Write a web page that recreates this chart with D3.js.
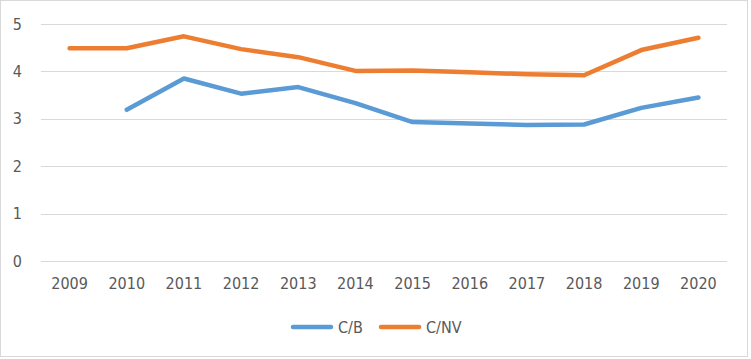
<!DOCTYPE html>
<html>
<head>
<meta charset="utf-8">
<script src="https://cdn.jsdelivr.net/npm/d3@7"></script>
<style>
body { margin: 0; background: #fff; }
text { font-family: "DejaVu Sans Condensed", "DejaVu Sans", sans-serif; font-stretch: condensed; fill: #595959; font-size: 16px; }
</style>
</head>
<body>
<div id="chart"></div>
<script>
var years = ["2009","2010","2011","2012","2013","2014","2015","2016","2017","2018","2019","2020"];
var cb = [null, 3.19, 3.85, 3.53, 3.67, 3.33, 2.93, 2.90, 2.87, 2.88, 3.23, 3.45];
var cnv = [4.49, 4.49, 4.74, 4.47, 4.30, 4.01, 4.02, 3.98, 3.94, 3.92, 4.45, 4.71];
var yTicks = [0, 1, 2, 3, 4, 5];
var seriesNames = ["C/B", "C/NV"];
var colors = ["#5B9BD5", "#ED7D31"];

var W = 751, H = 359;
var margin = {top: 24, left: 41, right: 24, bottom: 98};
var width = 727 - margin.left,
    height = 261 - margin.top;

var svg = d3.select("#chart").append("svg")
  .attr("width", W)
  .attr("height", H);

// outer border
svg.append("rect")
  .attr("x", 0.5).attr("y", 0.5)
  .attr("width", W - 4).attr("height", H - 3)
  .attr("fill", "#fff")
  .attr("stroke", "#D9D9D9");

var g = svg.append("g")
  .attr("transform", "translate(" + margin.left + "," + margin.top + ")");

var x = d3.scaleBand().domain(years).range([0, width]);
var y = d3.scaleLinear().domain([0, 5]).range([height, 0]);

// gridlines
g.append("g")
  .selectAll("line")
  .data(yTicks)
  .enter()
  .append("line")
  .attr("x1", 0).attr("x2", width)
  .attr("y1", function(d){ return Math.round(y(d)) + 0.5; })
  .attr("y2", function(d){ return Math.round(y(d)) + 0.5; })
  .attr("stroke", "#D9D9D9")
  .attr("stroke-width", 1);

// y axis labels
var yAxis = g.append("g")
  .call(d3.axisLeft(y).tickValues(yTicks).tickFormat(d3.format("d")).tickSize(0).tickPadding(19));
yAxis.select(".domain").remove();
yAxis.selectAll("text").style("font-size", "16px").attr("fill", "#595959");

// x axis labels
var xAxis = g.append("g")
  .attr("transform", "translate(0," + height + ")")
  .call(d3.axisBottom(x).tickSize(0).tickPadding(17));
xAxis.select(".domain").remove();
xAxis.selectAll("text").style("font-size", "16px").attr("fill", "#595959");

var line = d3.line()
  .defined(function(d){ return d != null; })
  .x(function(d, i){ return x(years[i]) + x.bandwidth() / 2; })
  .y(function(d){ return y(d); });

[cb, cnv].forEach(function(vals, k) {
  g.append("path")
    .datum(vals)
    .attr("fill", "none")
    .attr("stroke", colors[k])
    .attr("stroke-width", 4.5)
    .attr("stroke-linejoin", "round")
    .attr("stroke-linecap", "round")
    .attr("d", line);
});

// legend
var legend = svg.append("g").attr("transform", "translate(0,327)");
var legX = [291, 379];
seriesNames.forEach(function(name, k) {
  legend.append("line")
    .attr("x1", legX[k] + 2).attr("x2", legX[k] + 40)
    .attr("y1", 0).attr("y2", 0)
    .attr("stroke", colors[k])
    .attr("stroke-width", 4.5)
    .attr("stroke-linecap", "round");
  legend.append("text")
    .attr("x", legX[k] + 47)
    .attr("y", 6)
    .text(name);
});
</script>
</body>
</html>
